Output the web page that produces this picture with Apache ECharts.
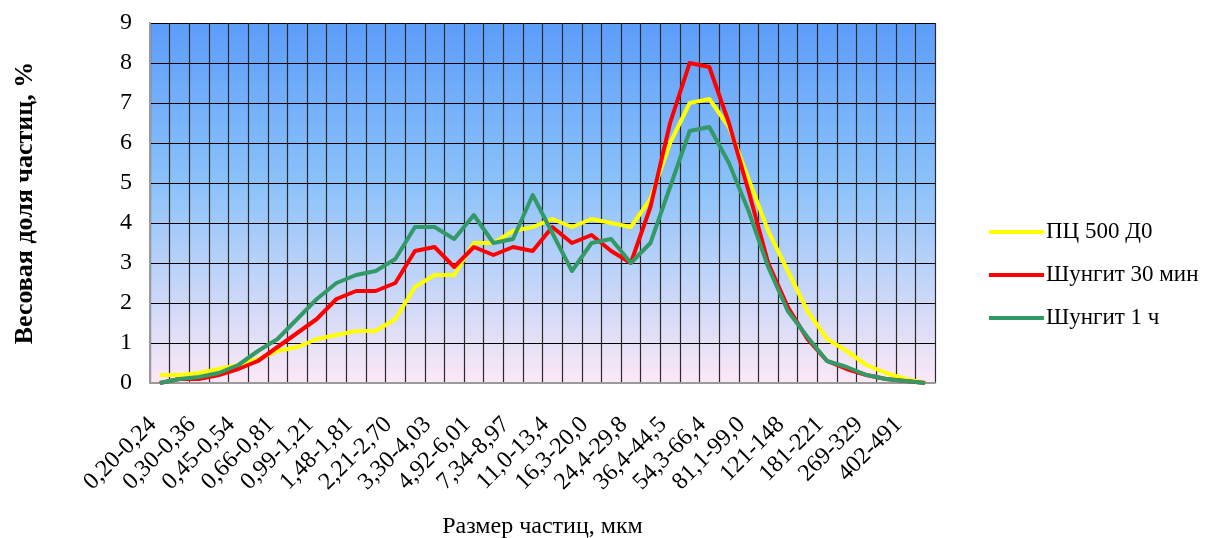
<!DOCTYPE html>
<html>
<head>
<meta charset="utf-8">
<script src="https://cdn.jsdelivr.net/npm/echarts@6/dist/echarts.min.js"></script>
<style>
  html, body { margin: 0; padding: 0; background: #ffffff; }
  #chart { width: 1210px; height: 538px; }
</style>
</head>
<body>
<div id="chart"></div>
<script>
// Particle size classes, µm
const sizeClasses = [
  '0,20-0,24', '0,24-0,30', '0,30-0,36', '0,36-0,45', '0,45-0,54',
  '0,54-0,66', '0,66-0,81', '0,81-0,99', '0,99-1,21', '1,21-1,48',
  '1,48-1,81', '1,81-2,21', '2,21-2,70', '2,70-3,30', '3,30-4,03',
  '4,03-4,92', '4,92-6,01', '6,01-7,34', '7,34-8,97', '8,97-11,0',
  '11,0-13,4', '13,4-16,3', '16,3-20,0', '20,0-24,4', '24,4-29,8',
  '29,8-36,4', '36,4-44,5', '44,5-54,3', '54,3-66,4', '66,4-81,1',
  '81,1-99,0', '99,0-121', '121-148', '148-181', '181-221',
  '221-269', '269-329', '329-402', '402-491', '491-600'
];

// Weight fraction of particles, %
const pcValues = [
  0.2, 0.2, 0.25, 0.35, 0.45, 0.6, 0.8, 0.9, 1.1, 1.2,
  1.3, 1.3, 1.6, 2.4, 2.7, 2.7, 3.5, 3.5, 3.8, 3.9,
  4.1, 3.9, 4.1, 4.0, 3.9, 4.6, 6.0, 7.0, 7.1, 6.4,
  5.1, 3.8, 2.8, 1.8, 1.1, 0.8, 0.45, 0.25, 0.1, 0.0
];
const shungite30Values = [
  0.0, 0.1, 0.1, 0.2, 0.35, 0.55, 0.9, 1.25, 1.6, 2.1,
  2.3, 2.3, 2.5, 3.3, 3.4, 2.9, 3.4, 3.2, 3.4, 3.3,
  3.9, 3.5, 3.7, 3.3, 3.0, 4.4, 6.5, 8.0, 7.9, 6.5,
  4.8, 3.0, 1.9, 1.1, 0.55, 0.35, 0.2, 0.1, 0.05, 0.0
];
const shungite60Values = [
  0.0, 0.1, 0.15, 0.25, 0.45, 0.8, 1.1, 1.6, 2.1, 2.5,
  2.7, 2.8, 3.1, 3.9, 3.9, 3.6, 4.2, 3.5, 3.6, 4.7,
  3.75, 2.8, 3.5, 3.6, 3.0, 3.5, 4.9, 6.3, 6.4, 5.5,
  4.3, 2.9, 1.8, 1.15, 0.55, 0.4, 0.2, 0.1, 0.05, 0.0
];

const seriesNames = ['ПЦ 500 Д0', 'Шунгит 30 мин', 'Шунгит 1 ч'];
const seriesColors = ['#ffff00', '#ff0000', '#339966'];

const serif = '"Liberation Serif", "DejaVu Serif", serif';

const chart = echarts.init(document.getElementById('chart'), null, { renderer: 'canvas' });

function lineSeries(name, data, color) {
  return {
    name: name,
    type: 'line',
    data: data,
    symbol: 'none',
    smooth: false,
    lineStyle: { color: color, width: 4, join: 'round' },
    itemStyle: { color: color },
    emphasis: { disabled: true }
  };
}

chart.setOption({
  animation: false,
  backgroundColor: '#ffffff',
  grid: {
    left: 150,
    right: 275,
    top: 23,
    bottom: 155,
    outerBoundsMode: 'none',
    containLabel: false,
    show: true,
    borderWidth: 0,
    backgroundColor: {
      type: 'linear', x: 0, y: 0, x2: 0, y2: 1,
      colorStops: [
        { offset: 0, color: '#5c9dfa' },
        { offset: 0.45, color: '#8cc2fa' },
        { offset: 1, color: '#fce8f6' }
      ]
    }
  },
  legend: {
    orient: 'vertical',
    left: 984,
    top: 215,
    itemWidth: 55,
    itemHeight: 4,
    itemGap: 19,
    icon: 'rect',
    textStyle: { fontFamily: serif, fontSize: 23, color: '#000', lineHeight: 24, padding: [0, 0, 0, -3] },
    data: seriesNames
  },
  xAxis: {
    type: 'category',
    data: sizeClasses,
    boundaryGap: true,
    name: 'Размер частиц, мкм',
    nameLocation: 'middle',
    nameGap: 132,
    nameTextStyle: { fontFamily: serif, fontSize: 24, color: '#000' },
    axisLine: { show: true, lineStyle: { color: '#9a9a9a', width: 2 } },
    axisTick: { show: false },
    axisLabel: {
      interval: 1,
      rotate: 45,
      margin: 31,
      padding: [0, 10, 0, 0],
      fontFamily: serif,
      fontSize: 24,
      color: '#000'
    },
    splitLine: {
      show: true,
      interval: 0,
      lineStyle: { color: '#2a2a2a', width: 1.2 }
    }
  },
  yAxis: {
    type: 'value',
    min: 0,
    max: 9,
    interval: 1,
    name: 'Весовая доля частиц, %',
    nameLocation: 'middle',
    nameRotate: 90,
    nameGap: 112,
    nameTextStyle: { fontFamily: serif, fontSize: 26, fontWeight: 'bold', color: '#000' },
    axisLine: { show: true, lineStyle: { color: '#9a9a9a', width: 2 } },
    axisTick: { show: false },
    axisLabel: { margin: 18, fontFamily: serif, fontSize: 24, color: '#000' },
    splitLine: { show: true, lineStyle: { color: '#000000', width: 1.2 } }
  },
  series: [
    lineSeries(seriesNames[0], pcValues, seriesColors[0]),
    lineSeries(seriesNames[1], shungite30Values, seriesColors[1]),
    lineSeries(seriesNames[2], shungite60Values, seriesColors[2])
  ]
});
</script>
</body>
</html>
